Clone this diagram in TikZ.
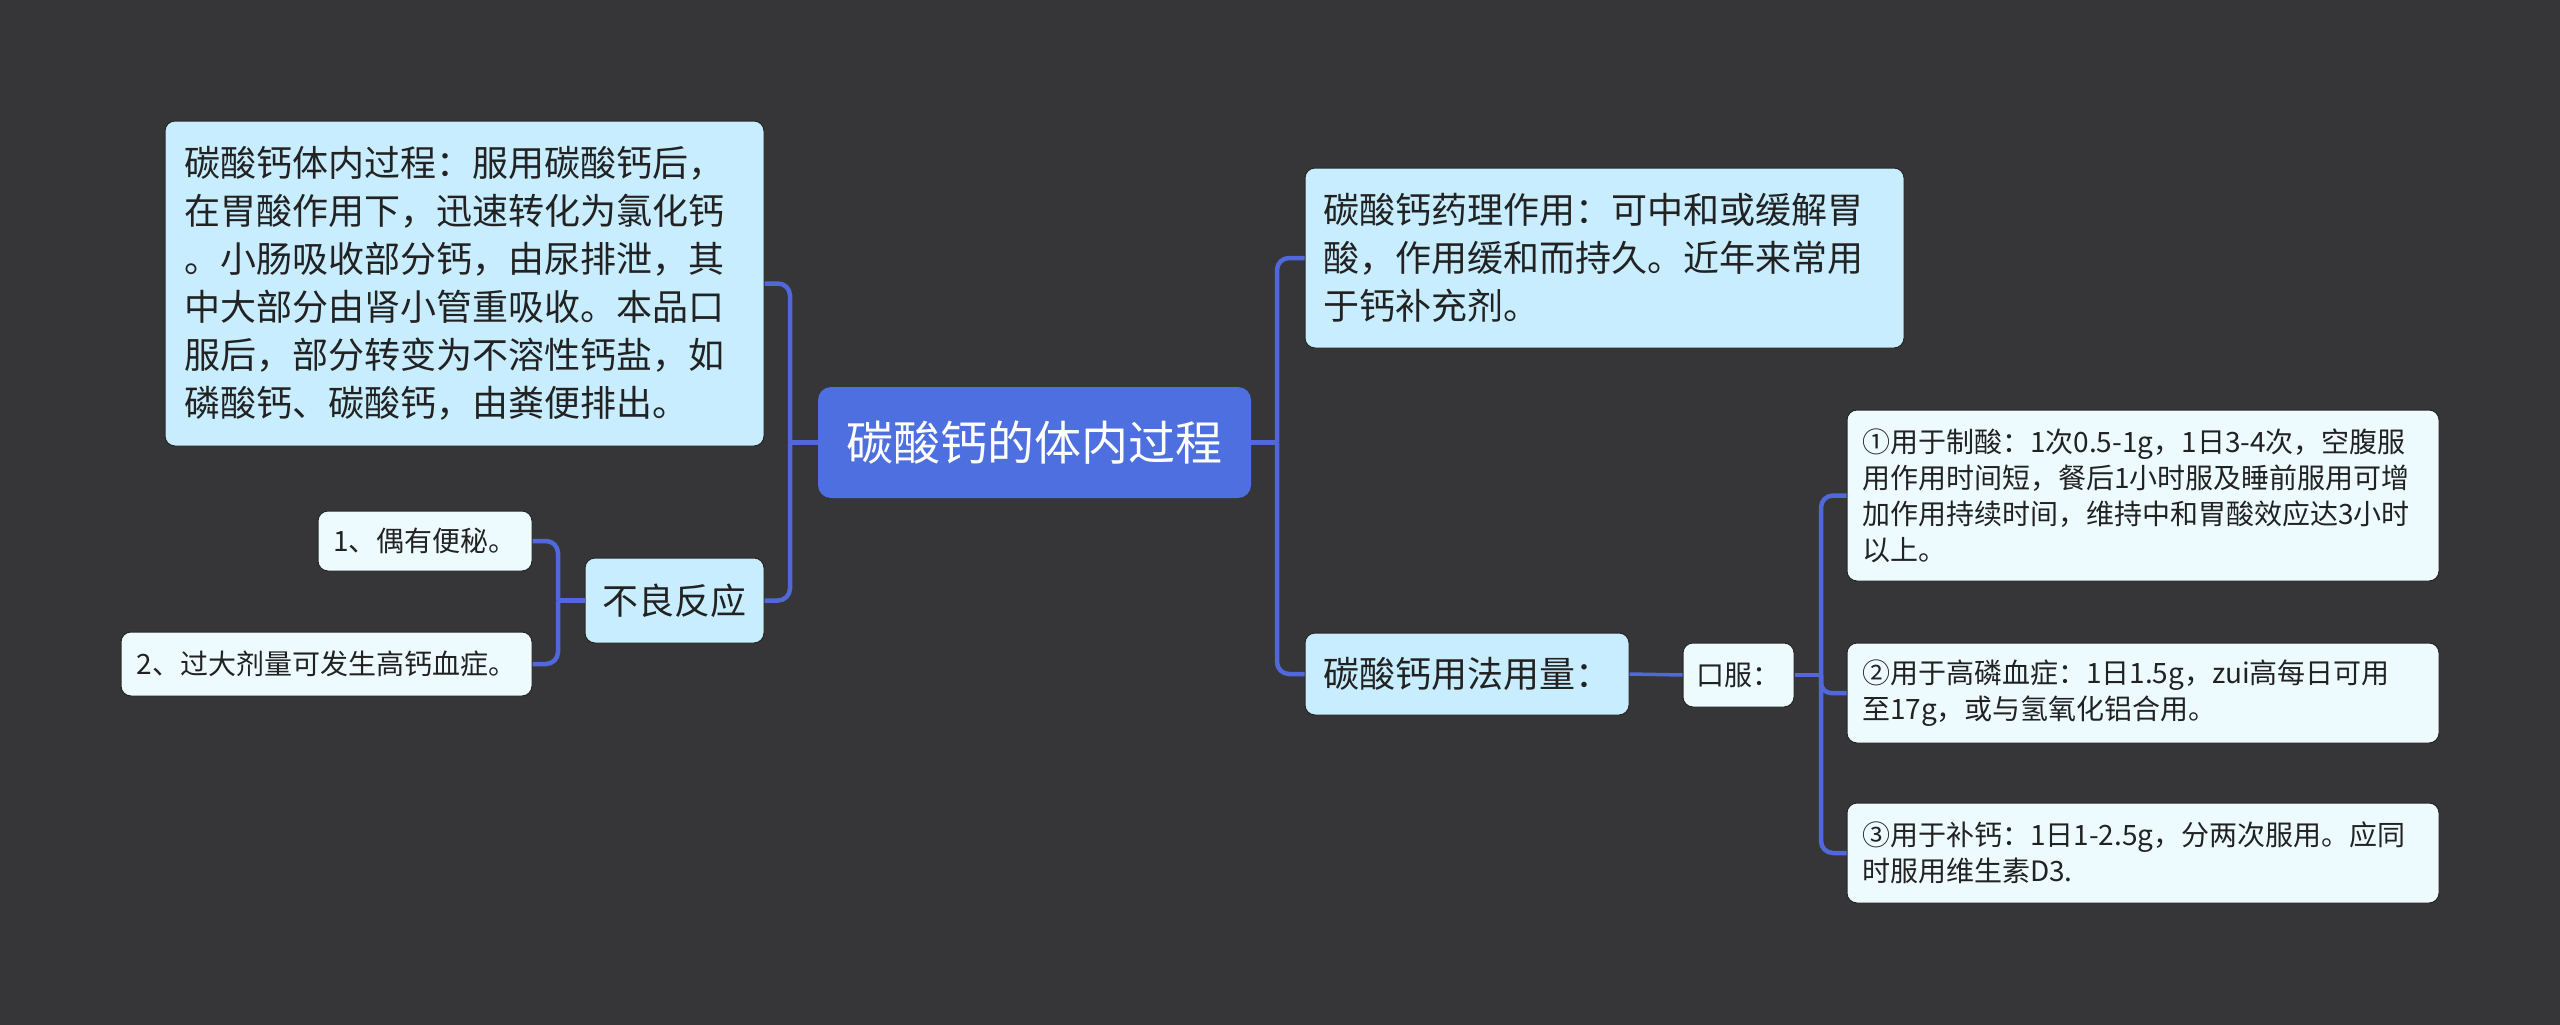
\documentclass[tikz,border=0pt]{standalone}
\usepackage{fontspec}
\setmainfont{Noto Sans CJK SC}
\definecolor{bg}{HTML}{363537}
\definecolor{rootblue}{HTML}{4D6FE0}
\definecolor{lineblue}{HTML}{5068DA}
\definecolor{topicfill}{HTML}{C8EDFE}
\definecolor{subfill}{HTML}{EEFBFE}
\definecolor{txt}{HTML}{222222}
\definecolor{edge}{HTML}{262626}
\tikzset{
  conn/.style={draw=lineblue, line width=4.5pt},
  rootbox/.style={fill=rootblue, rounded corners=13pt, text=white, font=\fontsize{47}{56}\selectfont, inner sep=0pt, minimum width=433pt, minimum height=111pt},
  topic/.style={fill=topicfill, draw=edge, line width=1pt, rounded corners=10pt, text=txt, font=\fontsize{36}{48}\selectfont, inner sep=0pt},
  subbox/.style={fill=subfill, draw=edge, line width=1pt, rounded corners=10pt, text=txt, font=\fontsize{28}{36}\selectfont, inner sep=0pt},
}
\begin{document}
\begin{tikzpicture}[x=1pt,y=-1pt]
\fill[bg] (0,0) rectangle (2560,1025);
\useasboundingbox (0,0) rectangle (2560,1025);

\node[rootbox] (root) at (1034.5,442.5) {碳酸钙的体内过程};

\node[topic, text width=561pt, align=left, minimum width=599pt, minimum height=325pt] (proc) at (464.5,283.5)
  {碳酸钙体内过程：服用碳酸钙后，\\在胃酸作用下，迅速转化为氯化钙\\。小肠吸收部分钙，由尿排泄，其\\中大部分由肾小管重吸收。本品口\\服后，部分转变为不溶性钙盐，如\\磷酸钙、碳酸钙，由粪便排出。};
\node[topic, minimum width=179pt, minimum height=85pt] (bad) at (674.5,600.5) {不良反应};
\node[subbox, minimum width=214pt, minimum height=60pt] (b1) at (425,541) {1、偶有便秘。};
\node[subbox, minimum width=411pt, minimum height=64pt] (b2) at (326.5,664) {2、过大剂量可发生高钙血症。};

\node[topic, text width=563pt, align=left, minimum width=599pt, minimum height=180pt] (pharm) at (1604.5,258)
  {碳酸钙药理作用：可中和或缓解胃\\酸，作用缓和而持久。近年来常用\\于钙补充剂。};
\node[topic, minimum width=324pt, minimum height=82pt] (usage) at (1467,674) {碳酸钙用法用量：};
\node[subbox, minimum width=111pt, minimum height=64pt] (oral) at (1738.5,675) {口服：};
\node[subbox, text width=562pt, align=left, minimum width=592pt, minimum height=171pt] (u1) at (2143,495.5)
  {①用于制酸：1次0.5-1g，1日3-4次，空腹服\\用作用时间短，餐后1小时服及睡前服用可增\\加作用持续时间，维持中和胃酸效应达3小时\\以上。};
\node[subbox, text width=562pt, align=left, minimum width=592pt, minimum height=100pt] (u2) at (2143,693)
  {②用于高磷血症：1日1.5g，zui高每日可用\\至17g，或与氢氧化铝合用。};
\node[subbox, text width=562pt, align=left, minimum width=592pt, minimum height=100pt] (u3) at (2143,853)
  {③用于补钙：1日1-2.5g，分两次服用。应同\\时服用维生素D3.};

\coordinate (busL) at (790,0);
\coordinate (busR) at (1277,0);
\coordinate (busB) at (558,0);
\coordinate (busO) at (1821,0);

\draw[conn] (root.west) -- (root.west -| busL);
\draw[conn, rounded corners=12pt] (root.west -| busL) |- (proc.east);
\draw[conn, rounded corners=12pt] (root.west -| busL) |- (bad.east);

\draw[conn] (root.east) -- (root.east -| busR);
\draw[conn, rounded corners=12pt] (root.east -| busR) |- (pharm.west);
\draw[conn, rounded corners=12pt] (root.east -| busR) |- (usage.west);

\draw[conn] (bad.west) -- (bad.west -| busB);
\draw[conn, rounded corners=12pt] (bad.west -| busB) |- (b1.east);
\draw[conn, rounded corners=12pt] (bad.west -| busB) |- (b2.east);

\draw[conn, line width=3.5pt] (usage.east) -- (oral.west);

\draw[conn, line width=3.5pt] (oral.east) -- (oral.east -| busO);
\draw[conn, rounded corners=12pt] (oral.east -| busO) |- (u1.west);
\draw[conn, rounded corners=10pt] (oral.east -| busO) |- (u2.west);
\draw[conn, rounded corners=12pt] (oral.east -| busO) |- (u3.west);
\end{tikzpicture}
\end{document}
